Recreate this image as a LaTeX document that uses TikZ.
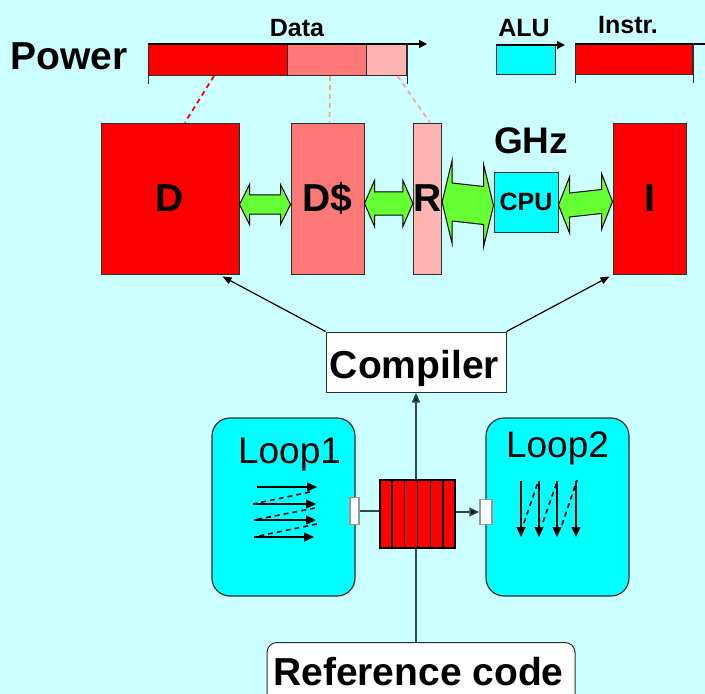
\documentclass[tikz,border=0pt]{standalone}
\usepackage{fontspec}
\setmainfont{Liberation Sans}
\usetikzlibrary{arrows.meta,calc}

\definecolor{bg}{RGB}{204,255,255}
\definecolor{hot}{RGB}{255,0,0}
\definecolor{warm}{RGB}{255,120,120}
\definecolor{mild}{RGB}{255,180,180}
\definecolor{aqua}{RGB}{0,255,255}
\definecolor{lime}{RGB}{102,255,51}
\definecolor{edge}{RGB}{45,45,45}
\definecolor{wire}{RGB}{45,75,75}
\definecolor{warmdash}{RGB}{250,168,128}
\definecolor{milddash}{RGB}{255,165,170}

% block double arrow between two anchors:
% #1 left tip, #2 right tip, #3 shaft half height, #4 wing half height,
% #5 head length, #6 vertical offset
\newcommand\fatlink[6]{%
  \draw[fatarrow]
    ($(#1)+(0,#6)$) -- ++(#5,{-(#4)}) -- ++(0,{(#4)-(#3)})
    -- ($(#2)+({-(#5)},{(#6)-(#3)})$) -- ++(0,{(#3)-(#4)})
    -- ($(#2)+(0,#6)$) -- ++({-(#5)},#4) -- ++(0,{(#3)-(#4)})
    -- ($(#1)+(#5,{(#6)+(#3)})$) -- ++(0,{(#4)-(#3)}) -- cycle;}

\begin{document}
\begin{tikzpicture}[x=1pt,y=-1pt,
  bigbold/.style={font=\bfseries\fontsize{39}{40}\selectfont},
  midbold/.style={font=\bfseries\fontsize{25}{26}\selectfont},
  blockbox/.style={draw=edge, line width=1pt, inner sep=0pt, bigbold},
  barseg/.style={draw=edge, line width=1pt, inner sep=0pt, anchor=north west},
  axis/.style={draw=black, line width=1.2pt, -{Triangle[length=8pt,width=8pt]}},
  tick/.style={draw=edge, line width=1pt},
  fatarrow/.style={draw=black, line width=1pt, fill=lime, line join=miter},
  thinarrow/.style={draw=black, line width=1.2pt, -{Triangle[length=9pt,width=7pt]}},
  wirearrow/.style={draw=wire, line width=1.5pt, -{Triangle[length=10pt,width=8pt,fill=black]}},
  loopbox/.style={draw=edge, line width=1.2pt, fill=aqua, rounded corners=18pt, inner sep=0pt},
  port/.style={draw=gray!80, line width=1.5pt, fill=white, inner sep=0pt},
  looplabel/.style={font=\fontsize{37}{38}\selectfont, anchor=base},
  walk/.style={draw=black, line width=1.5pt, -{Triangle[length=10pt,width=9pt]}},
  back/.style={draw=black, line width=1.6pt, dash pattern=on 5pt off 4pt},
  hint/.style={line width=1.8pt, dash pattern=on 5pt off 4pt}]

\fill[bg] (0,0) rectangle (705,694);
\useasboundingbox (0,0) rectangle (705,694);
\clip (0,0) rectangle (705,694);

% ---------- power bars ----------
\node[bigbold, anchor=base] (power) at (69,69) {Power};

\node[barseg, fill=hot,  minimum width=139pt, minimum height=31pt] (dhot)  at (148,44) {};
\node[barseg, fill=warm, minimum width=79pt,  minimum height=31pt] (dwarm) at (287,44) {};
\node[barseg, fill=mild, minimum width=40pt,  minimum height=31pt] (dmild) at (366,44) {};
\draw[axis] (dhot.north west) -- ++(279,0);
\draw[tick] (dhot.north west) -- ++(0,40);
\draw[tick] (dmild.north east) -- ++(0,40);
\node[midbold, anchor=base] (datalbl) at (297,36) {Data};

\node[barseg, fill=aqua, minimum width=59pt, minimum height=29pt] (alu) at (496,45) {};
\draw[axis] (alu.north west) -- ++(69,0);
\node[midbold, anchor=base] (alulbl) at (524,36) {ALU};

\node[barseg, fill=hot, minimum width=117pt, minimum height=30pt] (instr) at (575,44) {};
\draw[axis] (instr.north west) -- (714,44);
\draw[tick] (instr.north west) -- ++(0,39);
\draw[tick] ($(instr.north east)+(0,-1)$) -- ++(0,40);
\node[midbold, anchor=base] (instrlbl) at (628,33) {Instr.};

% ---------- memory hierarchy ----------
\node[blockbox, fill=hot,  minimum width=138pt, minimum height=151pt] (D)  at (170,198.5) {D};
\node[blockbox, fill=warm, minimum width=73pt,  minimum height=151pt] (Ds) at (327.5,198.5) {D\$};
\node[blockbox, fill=mild, minimum width=23pt,  minimum height=151pt] (R)  at (427.5,198.5) {R};
\node[blockbox, fill=hot,  minimum width=73pt,  minimum height=151pt] (I)  at (649.5,198.5) {I};
\node[draw=edge, line width=1pt, fill=aqua, inner sep=0pt, minimum width=64pt, minimum height=60pt,
      midbold] (cpu) at (526,202) {CPU};
\node[font=\bfseries\fontsize{37}{38}\selectfont, anchor=base] (ghz) at (531,153) {GHz};

\draw[hot, hint]       ($(dhot.south)+(-4,0)$)  -- ($(D.north)+(15,0)$);
\draw[warmdash, hint]  ($(dwarm.south)+(3,0)$)  -- ($(Ds.north)+(2,0)$);
\draw[milddash, hint]  ($(dmild.south)+(11,0)$) -- ($(R.north)+(2.5,0)$);

\fatlink{D.east}{Ds.west}{9.7}{20}{10}{6}
\fatlink{Ds.east}{R.west}{11.7}{23}{10}{5}
\fatlink{R.east}{cpu.west}{19}{41.5}{10}{3.5}
\fatlink{cpu.east}{I.west}{12}{28}{11}{3}

% ---------- compiler ----------
\node[draw=edge, line width=1pt, fill=white, inner sep=0pt,
      minimum width=180pt, minimum height=60pt] (comp) at (416,362) {};
\node[bigbold, anchor=base] (complbl) at (414.5,378) {Compiler};
\draw[thinarrow] (comp.north west) -- ($(D.south east)+(-17,2)$);
\draw[thinarrow] (comp.north east) -- ($(I.south west)+(-3,2)$);

% ---------- reference code ----------
\node[draw=edge, line width=1pt, fill=white, rounded corners=10pt, inner sep=0pt, anchor=north,
      minimum width=308pt, minimum height=80pt] (ref) at (421,642) {};
\node[bigbold, anchor=base] (reflbl) at (418.5,685) {Reference code};
\draw[wirearrow] (comp.south |- ref.north) -- (comp.south);

% ---------- loops ----------
\node[loopbox, minimum width=143pt, minimum height=178pt] (L1) at (283.5,507) {};
\node[loopbox, minimum width=143pt, minimum height=178pt] (L2) at (557.5,507) {};
\node[looplabel] (l1lbl) at (289.5,463) {Loop1};
\node[looplabel] (l2lbl) at (557.5,457) {Loop2};

\node[port, minimum width=9pt,  minimum height=27pt] (p1) at (354.5,511) {};
\node[port, minimum width=12pt, minimum height=25pt] (p2) at (486,512) {};

\node[draw=black, line width=1.3pt, fill=hot, inner sep=0pt,
      minimum width=75pt, minimum height=68pt] (q) at (417.5,514) {};
\foreach \i in {1,...,5}
  \draw[black, line width=1.3pt] ($(q.north west)!\i/6!(q.north east)$) -- ($(q.south west)!\i/6!(q.south east)$);

\draw[wire, line width=1.5pt] (p1.east) -- (p1.east -| q.west);
\draw[wire, line width=1.5pt, -{Triangle[length=10pt,width=9pt,fill=black]}] (q.east |- p2.west) -- (p2.west);

% row-wise walk
\foreach \ya/\yb/\xa/\xb in {487/487/257/317, 504/504/253/316, 520/520/254/316, 537/537/254/314}
  \draw[walk] (\xa,\ya) -- (\xb,\yb);
\draw[back] (310,492) -- (253,504);
\draw[back] (315,508) -- (254,520);
\draw[back] (317,524) -- (254,537);

% column-wise walk
\foreach \x in {521,539,557,576}
  \draw[walk] (\x,481) -- (\x,537);
\draw[back] (524,523) -- (538,482);
\draw[back] (543,522) -- (557,482);
\draw[back] (562,525) -- (577,480);

\end{tikzpicture}
\end{document}
